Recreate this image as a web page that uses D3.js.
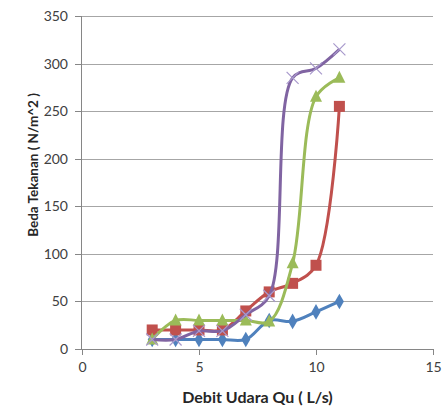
<!DOCTYPE html>
<html><head><meta charset="utf-8">
<script src="https://cdn.jsdelivr.net/npm/d3@7"></script>
<style>body{margin:0;background:#fff}svg{display:block}text{font-family:Lato,"Open Sans",sans-serif}</style>
</head><body><svg id="c" width="442" height="408"></svg>
<script>
const xValues = [3,4,5,6,7,8,9,10,11];
const seriesBlue = [10,10,10,10,10,30,29,39,50];
const seriesRed = [20,20,20,20,40,60,69,88,255];
const seriesGreen = [10,30,30,30,30,29,90,265,285];
const seriesPurple = [10,10,19,19,36,56,285,295,315];
const xTicks = [0,5,10,15];
const yTicks = [0,50,100,150,200,250,300,350];
const xTitle = "Debit Udara Qu ( L/s)";
const yTitle = "Beda Tekanan ( N/m^2 )";

const svg = d3.select("#c");
const L=82,R=433,T=16,B=349;
const x = d3.scaleLinear().domain([0,15]).range([L,R]);
const y = d3.scaleLinear().domain([0,350]).range([B,T]);

svg.append("g").selectAll("line").data(yTicks.filter(d=>d>0)).join("line")
 .attr("x1",L).attr("x2",R).attr("y1",d=>Math.round(y(d))+0.5).attr("y2",d=>Math.round(y(d))+0.5)
 .attr("stroke","#a6a6a6").attr("stroke-width",1);

const gx = svg.append("g").attr("transform",`translate(0,${B})`)
 .call(d3.axisBottom(x).tickValues(xTicks).tickSize(6).tickPadding(7));
const gy = svg.append("g").attr("transform",`translate(${L},0)`)
 .call(d3.axisLeft(y).tickValues(yTicks).tickSize(7).tickPadding(7));
[gx,gy].forEach(g=>{
 g.selectAll("path,line").attr("stroke","#868686").attr("shape-rendering","crispEdges");
 g.selectAll("text").attr("fill","#404040").attr("font-size","14px");
});
gx.select(".domain").attr("d",`M${L},0.5H${R}`);
gy.select(".domain").attr("d",`M-0.5,${B}V${T}`);

svg.append("text").attr("x",(L+R)/2).attr("y",403).attr("text-anchor","middle")
 .attr("font-size","16px").attr("font-weight","bold").attr("fill","#262626").text(xTitle);
svg.append("text").attr("transform","translate(38,165) rotate(-90)").attr("text-anchor","middle")
 .attr("font-size","13.5px").attr("font-weight","bold").attr("fill","#262626").text(yTitle);

const series = [
 {vals:seriesBlue,color:"#4F81BD",sym:"diamond"},
 {vals:seriesRed,color:"#C0504D",sym:"square"},
 {vals:seriesGreen,color:"#9BBB59",sym:"triangle"},
 {vals:seriesPurple,color:"#8064A2",sym:"x"}
];
const line = d3.line().x(d=>x(d[0])).y(d=>y(d[1])).curve(d3.curveCatmullRom.alpha(0.5));
series.forEach(s=>{
 const pts = xValues.map((v,i)=>[v,s.vals[i]]);
 svg.append("path").datum(pts).attr("d",line).attr("fill","none")
  .attr("stroke",s.color).attr("stroke-width",3).attr("stroke-linejoin","round");
 const g = svg.append("g");
 pts.forEach(p=>{
  const cx=x(p[0]), cy=y(p[1]);
  if(s.sym==="diamond"){
   g.append("path").attr("d",d3.symbol(d3.symbolDiamond,70)()).attr("transform",`translate(${cx},${cy})`).attr("fill",s.color);
  } else if(s.sym==="square"){
   g.append("rect").attr("x",cx-5.5).attr("y",cy-5.5).attr("width",11).attr("height",11).attr("fill",s.color);
  } else if(s.sym==="triangle"){
   g.append("path").attr("d",`M${cx},${cy-7}L${cx+6},${cy+5}L${cx-6},${cy+5}Z`).attr("fill",s.color);
  } else {
   g.append("path").attr("d",`M${cx-6},${cy-6}L${cx+6},${cy+6}M${cx-6},${cy+6}L${cx+6},${cy-6}`)
    .attr("stroke","#a899cc").attr("stroke-width",1.2);
  }
 });
});
</script></body></html>
